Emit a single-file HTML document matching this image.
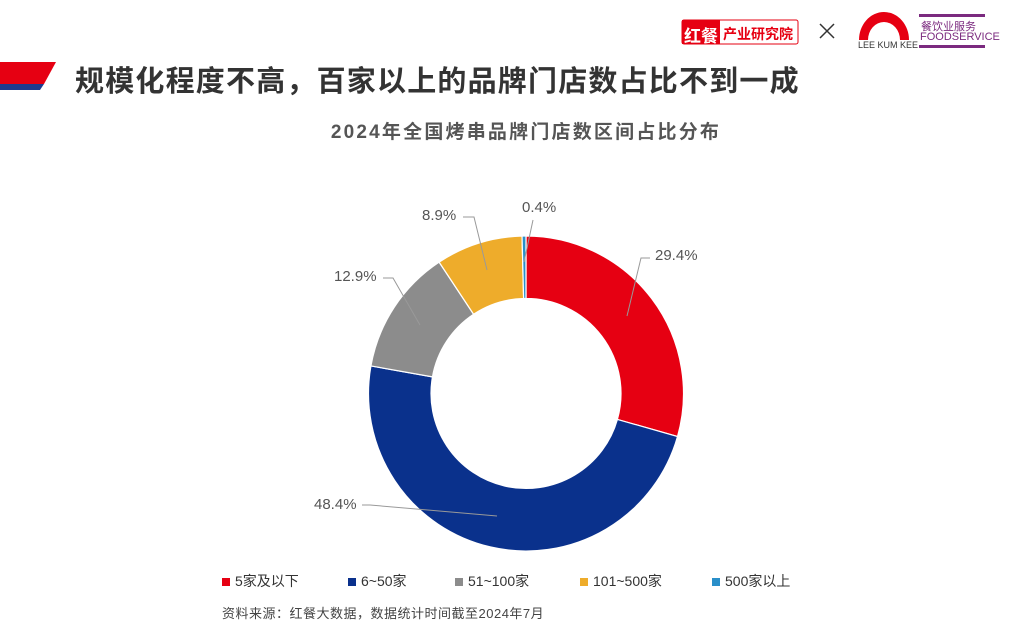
<!DOCTYPE html><html><head><meta charset="utf-8"><style>
body{margin:0;width:1032px;height:632px;background:#fff;position:relative;overflow:hidden;font-family:"Liberation Sans","Noto Sans CJK SC",sans-serif}
.a{position:absolute;white-space:nowrap}
.l{position:absolute;top:571px;font-size:14px;color:#333;white-space:nowrap}
.l i{display:inline-block;width:8px;height:8px;margin-right:5px}
</style></head><body>
<svg class="a" style="left:0;top:0" width="1032" height="632">
<polygon points="0,62 56,62 44,84 0,84" fill="#e60012"/>
<polygon points="0,84 44,84 40,90 0,90" fill="#1d3a8f"/>
<g id="d"></g>
<g stroke="#999" fill="none" stroke-width="1">
<polyline points="627,316 641,258 650,258"/>
<polyline points="497,516 370,505 362,505"/>
<polyline points="420,325 393,278 383,278"/>
<polyline points="487,270 474,217 463,217"/>
<polyline points="524,262 533,220"/>
</g>
<rect x="682" y="20" width="116" height="24" fill="#fff" stroke="#e60012" rx="2"/>
<rect x="682" y="20" width="38" height="24" fill="#e60012"/>
<path d="M820 24 L834 38 M834 24 L820 38" stroke="#333" stroke-width="1.5"/>
<path d="M859 40 A25 28 0 0 1 909 40 L900 40 A16 18 0 0 0 868 40Z" fill="#e60012"/>
<rect x="919" y="14" width="66" height="3" fill="#7b2a7f"/><rect x="919" y="45" width="66" height="3" fill="#7b2a7f"/>
</svg>
<div class="a" style="left:684px;top:22px;color:#fff;font-size:17px;font-weight:bold">红餐</div>
<div class="a" style="left:723px;top:24px;color:#e60012;font-size:14px;font-weight:bold">产业研究院</div>
<div class="a" style="left:858px;top:40px;font-size:9px;color:#333">LEE KUM KEE</div>
<div class="a" style="left:921px;top:18px;font-size:11px;color:#7b2a7f">餐饮业服务</div>
<div class="a" style="left:920px;top:31px;font-size:11px;color:#7b2a7f">FOODSERVICE</div>
<div class="a" style="left:75px;top:58px;font-size:29px;font-weight:bold;color:#333;letter-spacing:1.2px">规模化程度不高，百家以上的品牌门店数占比不到一成</div>
<div class="a" style="left:0;width:1052px;text-align:center;top:117px;font-size:19px;font-weight:bold;color:#555;letter-spacing:2.2px">2024年全国烤串品牌门店数区间占比分布</div>
<div class="a" style="left:655px;top:247px;font-size:15px;color:#555">29.4%</div>
<div class="a" style="left:314px;top:496px;font-size:15px;color:#555">48.4%</div>
<div class="a" style="left:334px;top:268px;font-size:15px;color:#555">12.9%</div>
<div class="a" style="left:422px;top:207px;font-size:15px;color:#555">8.9%</div>
<div class="a" style="left:522px;top:199px;font-size:15px;color:#555">0.4%</div>
<div class="l" style="left:222px"><i style="background:#e60012"></i>5家及以下</div>
<div class="l" style="left:348px"><i style="background:#0a318c"></i>6~50家</div>
<div class="l" style="left:455px"><i style="background:#8c8c8c"></i>51~100家</div>
<div class="l" style="left:580px"><i style="background:#eeac2b"></i>101~500家</div>
<div class="l" style="left:712px"><i style="background:#2a8fc9"></i>500家以上</div>
<div class="a" style="left:222px;top:603px;font-size:13px;color:#444;letter-spacing:0.5px">资料来源：红餐大数据，数据统计时间截至2024年7月</div>
<script>
var v=[29.4,48.4,12.9,8.9,0.4],c=["#e60012","#0a318c","#8c8c8c","#eeac2b","#2a8fc9"],cx=526,cy=393.5,R=157.5,r=95,a=0,s="";
var t=v.reduce((x,y)=>x+y);
v.forEach(function(x,i){var b=a+x/t*2*Math.PI,L=(b-a)>Math.PI?1:0;
function p(rr,an){return (cx+rr*Math.sin(an)).toFixed(2)+","+(cy-rr*Math.cos(an)).toFixed(2)}
s+='<path d="M'+p(R,a)+' A'+R+','+R+' 0 '+L+' 1 '+p(R,b)+' L'+p(r,b)+' A'+r+','+r+' 0 '+L+' 0 '+p(r,a)+'Z" fill="'+c[i]+'" stroke="#fff" stroke-width="1.2"/>';a=b;});
document.getElementById("d").innerHTML=s;
</script>
</body></html>
